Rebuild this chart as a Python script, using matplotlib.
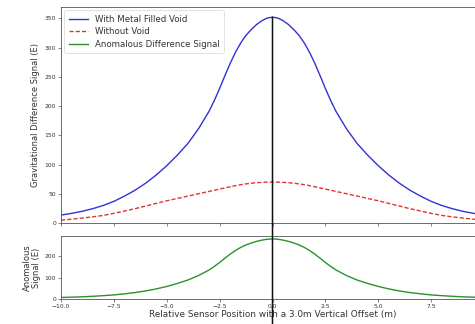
import numpy as np
import matplotlib
matplotlib.use("Agg")
import matplotlib.pyplot as plt
from matplotlib.patches import ConnectionPatch
from matplotlib.transforms import blended_transform_factory

# Sensor positions (m) for one half (curves are symmetric about 0)
half_x = [0, 0.25, 0.5, 0.75, 1, 1.25, 1.5, 1.75, 2, 2.25, 2.5, 2.75, 3,
          3.5, 4, 4.5, 5, 5.5, 6, 6.5, 7, 7.5, 8, 8.5, 9, 9.5, 10]
half_metal = [352, 350.5, 346, 339.5, 331, 321, 308, 292, 273, 252, 230, 209.5, 191,
              161, 136, 116, 98, 82, 68, 56, 46, 37, 30, 24.5, 20, 16.5, 13.5]
half_without = [70, 69.9, 69.5, 68.9, 68, 66.9, 65.5, 63.9, 62, 60, 58, 56, 54,
                50, 46, 42, 38, 33.5, 29, 24.5, 20.5, 16.5, 13, 10.5, 8.5, 6.5, 5]
half_anom = [282, 280.6, 276.5, 270.6, 263, 254.1, 242.5, 228.1, 211, 192, 172, 153.5, 137,
             111, 90, 74, 60, 48.5, 39, 31.5, 25.5, 20.5, 17, 14, 11.5, 10, 8.5]

x = np.array([-v for v in half_x[:0:-1]] + half_x)
metal = np.array(half_metal[:0:-1] + half_metal)
without = np.array(half_without[:0:-1] + half_without)
anom = np.array(half_anom[:0:-1] + half_anom)

xticks = [-10.0, -7.5, -5.0, -2.5, 0.0, 2.5, 5.0, 7.5]
top_yticks = [0, 50, 100, 150, 200, 250, 300, 350]
bot_yticks = [0, 100, 200]

W, H = 475, 324
fig = plt.figure(figsize=(W / 100, H / 100), dpi=100)

ax_top = fig.add_axes([61 / W, 1 - 223 / H, (484 - 61) / W, (223 - 7) / H])
ax_bot = fig.add_axes([61 / W, 1 - 299.3 / H, (484 - 61) / W, (299.3 - 236) / H], sharex=ax_top)

c_blue = '#3232d2'
c_red = '#e03535'
c_green = '#2a922a'
spine_c = '#555555'
text_c = '#333333'

ax_top.plot(x, metal, color=c_blue, lw=1.0, label='With Metal Filled Void')
ax_top.plot(x, without, color=c_red, lw=1.0, ls='--', dashes=(3, 1.5), label='Without Void')
ax_top.plot([], [], color=c_green, lw=1.0, label='Anomalous Difference Signal')
ax_bot.plot(x, anom, color=c_green, lw=1.0)

ax_top.set_xlim(-10, 10)
ax_top.set_ylim(bottom=0)
ax_bot.set_ylim(bottom=0)
ax_top.set_yticks(top_yticks)
ax_bot.set_yticks(bot_yticks)
ax_bot.set_xticks(xticks)
plt.setp(ax_top.get_xticklabels(), visible=False)

for ax in (ax_top, ax_bot):
    for s in ax.spines.values():
        s.set_color(spine_c)
        s.set_linewidth(0.6)
    ax.tick_params(labelsize=4.3, length=2, width=0.5, color=spine_c, pad=1.5, labelcolor=text_c)

ax_top.set_ylabel('Gravitational Difference Signal (E)', fontsize=6.0, color=text_c, labelpad=3)
ax_bot.set_ylabel('Anomalous\nSignal (E)', fontsize=6.0, color=text_c, labelpad=3, linespacing=1.0)
ax_bot.set_xlabel('Relative Sensor Position with a 3.0m Vertical Offset (m)', fontsize=6.4,
                  color=text_c, labelpad=0.5)

leg = ax_top.legend(loc='upper left', fontsize=6.2, frameon=True, handlelength=2.2,
                    borderpad=0.5, labelspacing=0.4, handletextpad=0.8, borderaxespad=0.4)
leg.get_frame().set_linewidth(0.5)
leg.get_frame().set_edgecolor('#cccccc')
for t in leg.get_texts():
    t.set_color(text_c)

trans_b = blended_transform_factory(ax_bot.transData, fig.transFigure)
con = ConnectionPatch(xyA=(0, metal.max()), coordsA=ax_top.transData,
                      xyB=(0, 0), coordsB=trans_b, color='#111111', lw=1.1)
fig.add_artist(con)

fig.savefig('out.png', dpi=100)
